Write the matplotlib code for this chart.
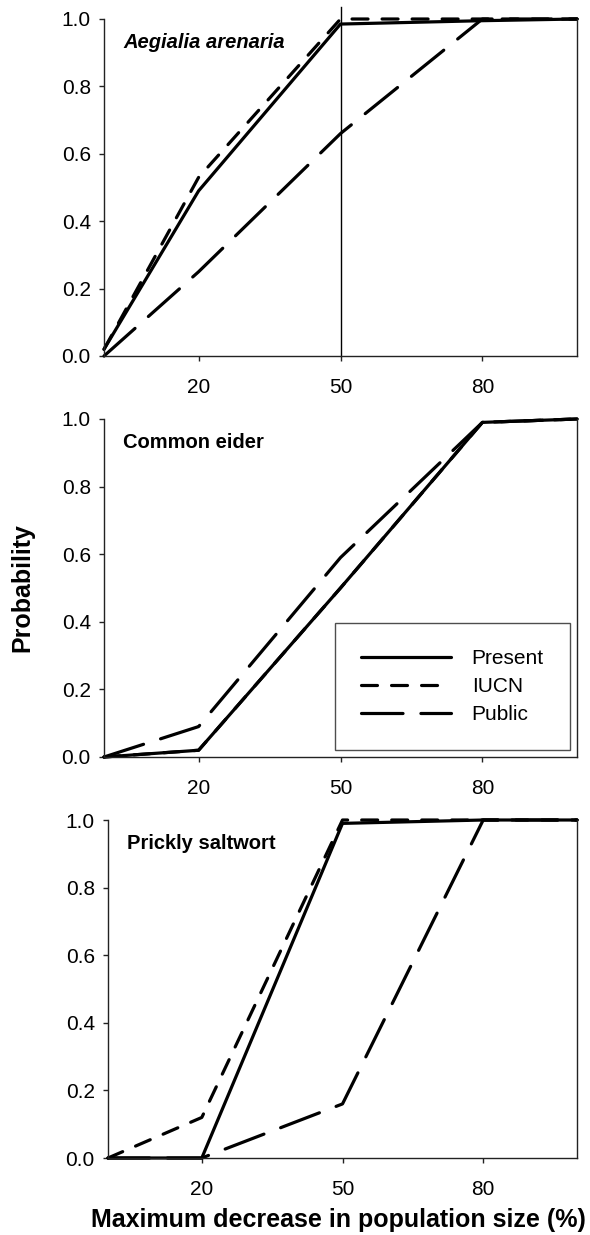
import numpy as np
import matplotlib
matplotlib.use("Agg")
import matplotlib.pyplot as plt

plt.rcParams['font.family'] = ['Liberation Sans', 'DejaVu Sans']

# x positions (maximum decrease in population size, %)
x = [0, 20, 50, 80, 100]

# Aegialia arenaria
aeg_present = [0.02, 0.49, 0.985, 0.995, 1.0]
aeg_iucn = [0.02, 0.53, 1.0, 1.0, 1.0]
aeg_public = [0.0, 0.25, 0.66, 1.0, 1.0]

# Common eider
eid_present = [0.0, 0.02, 0.50, 0.99, 1.0]
eid_iucn = [0.0, 0.02, 0.50, 0.99, 1.0]
eid_public = [0.0, 0.09, 0.59, 0.99, 1.0]

# Prickly saltwort
sal_present = [0.0, 0.0, 0.99, 1.0, 1.0]
sal_iucn = [0.0, 0.12, 1.0, 1.0, 1.0]
sal_public = [0.0, 0.0, 0.16, 1.0, 1.0]

panel_titles = ["Aegialia arenaria", "Common eider", "Prickly saltwort"]
series_names = ["Present", "IUCN", "Public"]
xticks = [20, 50, 80]
yticks = [0.0, 0.2, 0.4, 0.6, 0.8, 1.0]

data = [
    (aeg_present, aeg_iucn, aeg_public),
    (eid_present, eid_iucn, eid_public),
    (sal_present, sal_iucn, sal_public),
]

lw = 2.3
styles = ['-', (0, (5.0, 4.4)), (0, (13.0, 5.6))]

fig = plt.figure(figsize=(5.90, 12.35), dpi=100)

# axes boxes in figure fractions
boxes = [
    [104/590, 1-356/1235, 473/590, 337/1235],
    [104/590, 1-757/1235, 473/590, 338/1235],
    [108/590, 1-1158/1235, 469/590, 338/1235],
]

axes = []
for i, box in enumerate(boxes):
    ax = fig.add_axes(box)
    axes.append(ax)
    pres, iucn, pub = data[i]
    for vals, ls, name in zip((pres, iucn, pub), styles, series_names):
        ax.plot(x, vals, color='black', lw=lw, linestyle=ls, label=name,
                clip_on=False, dash_capstyle='round', solid_capstyle='round')

    ax.set_xlim(0, 100)
    ax.set_ylim(0, 1.0)
    ax.set_xticks(xticks)
    ax.set_yticks(yticks)
    ax.set_yticklabels(["%.1f" % v for v in yticks])
    ax.spines['top'].set_visible(False)
    for s in ['left', 'bottom', 'right']:
        ax.spines[s].set_linewidth(1.0)
        ax.spines[s].set_color('#222222')
    ax.tick_params(axis='both', direction='out', length=3.5, width=1.0,
                   color='#222222', labelsize=15)
    ax.tick_params(axis='y', pad=6)
    ax.tick_params(axis='x', pad=12)

    style = 'italic' if i == 0 else 'normal'
    ax.text(0.04, 0.93, panel_titles[i], transform=ax.transAxes,
            fontsize=14.5, fontweight='bold', fontstyle=style,
            ha='left', va='center')

# vertical reference line at 50 % in the first panel
axes[0].axvline(50, ymin=0, ymax=1.036, color='black', lw=1.0, clip_on=False)

# legend in middle panel
leg = axes[1].legend(loc='lower right', bbox_to_anchor=(0.985, 0.021),
                     frameon=True, fancybox=False, fontsize=15,
                     handlelength=4.3, handletextpad=1.0, labelspacing=0.42,
                     borderpad=1.25, borderaxespad=0)
leg.get_frame().set_edgecolor('#222222')
leg.get_frame().set_linewidth(1.0)

fig.text(22/590, 1-588/1235, "Probability", rotation=90, fontsize=18,
         fontweight='bold', ha='center', va='center')
fig.text(338/590, 1-1220/1235, "Maximum decrease in population size (%)",
         fontsize=18, fontweight='bold', ha='center', va='center')

fig.savefig("out.png", dpi=100)
